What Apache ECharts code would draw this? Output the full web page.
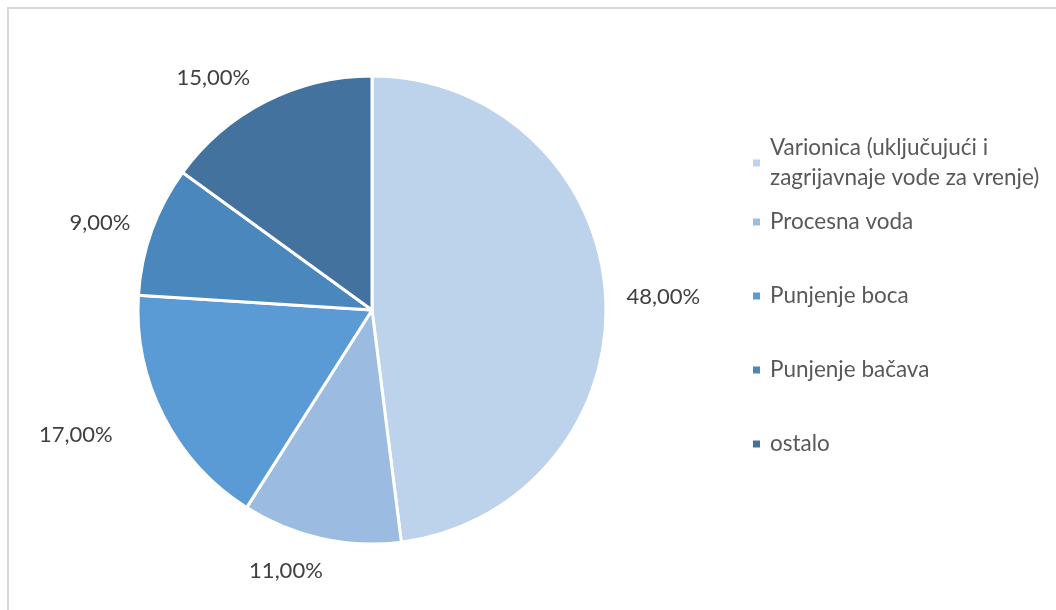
<!DOCTYPE html>
<html>
<head>
<meta charset="utf-8">
<script src="https://cdn.jsdelivr.net/npm/echarts@6/dist/echarts.min.js"></script>
<style>
html,body{margin:0;padding:0;background:#fff;}
#chart{width:1056px;height:610px;}
</style>
</head>
<body>
<div id="chart"></div>
<script>
const categories = [
  'Varionica (uključujući i\nzagrijavnaje vode za vrenje)',
  'Procesna voda',
  'Punjenje boca',
  'Punjenje bačava',
  'ostalo'
];
const values = [48, 11, 17, 9, 15];
const colors = ['#BDD2EB', '#9BBBE0', '#5B9BD5', '#4A87BC', '#43729E'];
// label nudges (style only), per slice
const labelNudge = [[-4, 2], [19, 23], [-27, 14], [3, -4], [4, -15]];

const legendText = {
  fontFamily: 'Lato',
  fontSize: 22.5,
  color: '#595959',
  lineHeight: 30,
  padding: [0, 0, 0, 4]
};

const chart = echarts.init(document.getElementById('chart'), null, {renderer: 'canvas'});
chart.setOption({
  backgroundColor: '#ffffff',
  animation: false,
  graphic: [
    {type: 'line', shape: {x1: 8, y1: 7, x2: 8, y2: 610}, style: {stroke: '#d9d9d9', lineWidth: 2}},
    {type: 'line', shape: {x1: 7, y1: 8, x2: 1056, y2: 8}, style: {stroke: '#d9d9d9', lineWidth: 2}}
  ],
  legend: [{
    orient: 'vertical',
    left: 751,
    top: 133,
    padding: 0,
    itemWidth: 9,
    itemHeight: 9,
    icon: 'rect',
    selectedMode: false,
    textStyle: legendText,
    data: categories.slice(0, 1)
  }, {
    orient: 'vertical',
    left: 751,
    top: 207,
    padding: 0,
    itemWidth: 9,
    itemHeight: 9,
    itemGap: 44,
    icon: 'rect',
    selectedMode: false,
    textStyle: legendText,
    data: categories.slice(1)
  }],
  series: [{
    type: 'pie',
    center: [372, 310],
    radius: 234,
    startAngle: 90,
    clockwise: true,
    avoidLabelOverlap: false,
    itemStyle: {borderColor: '#ffffff', borderWidth: 3},
    label: {
      show: true,
      position: 'outside',
      alignTo: 'none',
      fontFamily: 'Lato',
      fontSize: 22,
      color: '#404040',
      formatter: p => p.value.toFixed(2).replace('.', ',') + '%'
    },
    labelLine: {show: false, length: 10, length2: 10},
    labelLayout: p => ({dx: labelNudge[p.dataIndex][0], dy: labelNudge[p.dataIndex][1]}),
    emphasis: {disabled: true},
    data: categories.map((c, i) => ({name: c, value: values[i], itemStyle: {color: colors[i]}}))
  }]
});
</script>
</body>
</html>
